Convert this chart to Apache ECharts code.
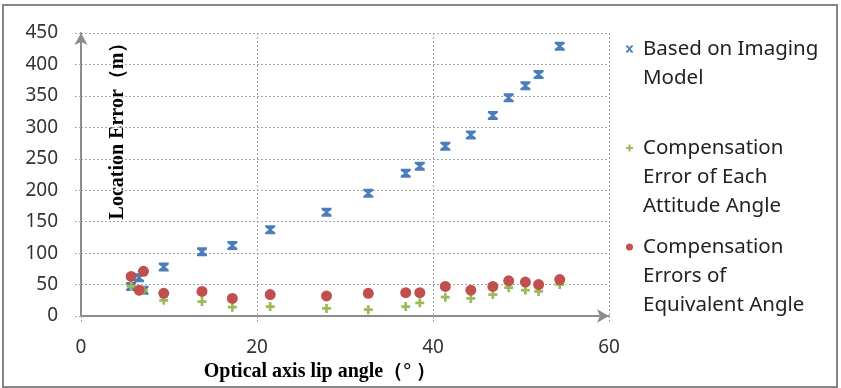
<!DOCTYPE html>
<html>
<head>
<meta charset="utf-8">
<script src="https://cdn.jsdelivr.net/npm/echarts@6/dist/echarts.min.js"></script>
<style>
  html, body { margin: 0; padding: 0; background: #fff; }
  #chart { width: 841px; height: 388px; }
</style>
</head>
<body>
<div id="chart"></div>
<script>
// optical axis tilt angle (deg)
const angles = [5.7, 6.6, 7.1, 9.4, 13.75, 17.2, 21.5, 27.9, 32.65, 36.9, 38.5, 41.4, 44.3, 46.8, 48.6, 50.5, 52.0, 54.4];
// location error (m)
const imagingModel = [47, 61, 41, 78, 102, 112, 137, 165, 195, 227, 238, 270, 288, 319, 347, 366, 384, 429];
const eachAttitude = [47, 40, 41, 25, 23, 14, 15, 12, 10, 15, 21, 30, 28, 34, 45, 41, 39, 50];
const equivalent = [63, 41, 71, 36, 39, 28, 34, 32, 36, 37, 37, 47, 41, 47, 56, 54, 50, 58];

const names = ['Based on Imaging\nModel', 'Compensation\nError of Each\nAttitude Angle', 'Compensation\nErrors of\nEquivalent Angle'];
const values = [imagingModel, eachAttitude, equivalent];

// excel-style star marker (x with bars), plus, circle
const starPath = 'path://M0,0H10V2.2L6.4,5L10,7.8V10H0V7.8L3.6,5L0,2.2Z';
const starSmall = 'path://M0,0H3L5,3.2L7,0H10V1.5L6.4,5L10,8.5V10H7L5,6.8L3,10H0V8.5L3.6,5L0,1.5Z';
const plusPath = 'path://M3.5,0H6.5V3.5H10V6.5H6.5V10H3.5V6.5H0V3.5H3.5Z';
const symbols = [starPath, plusPath, 'circle'];
const legendIcons = [starSmall, plusPath, 'circle'];
const sizes = [[10, 9], 9, 11];
const colors = ['#4a7ebb', '#9bbb59', '#c0504d'];

// legend rows: first-line centre of each entry
const legendRows = [49, 148, 247];
const lineH = 29;

const myChart = echarts.init(document.getElementById('chart'));
const option = {
  animation: false,
  grid: {left: 81, right: 232, top: 33, bottom: 72},
  xAxis: {
    type: 'value',
    min: 0, max: 60, interval: 20,
    axisLine: {show: true, symbol: ['none', 'arrow'], symbolSize: [10, 12], lineStyle: {color: '#8c8c8c', width: 2}},
    axisTick: {show: true, length: 8, lineStyle: {color: '#a8a8a8', type: [2, 2]}},
    axisLabel: {margin: 22, color: '#333', fontSize: 19, fontFamily: 'Noto Sans'},
    splitLine: {show: true, lineStyle: {color: '#a8a8a8', type: [2, 2]}}
  },
  yAxis: {
    type: 'value',
    min: 0, max: 450, interval: 50,
    axisLine: {show: true, symbol: ['none', 'arrow'], symbolSize: [10, 12], lineStyle: {color: '#8c8c8c', width: 2}},
    axisTick: {show: true, length: 8, lineStyle: {color: '#a8a8a8', type: [2, 2]}},
    axisLabel: {margin: 23, color: '#333', fontSize: 19, fontFamily: 'Noto Sans'},
    splitLine: {show: true, lineStyle: {color: '#a8a8a8', type: [2, 2]}}
  },
  legend: names.map((n, i) => ({
    data: [n],
    left: 626,
    top: legendRows[i] - 3.5,
    padding: 0,
    itemWidth: 7,
    itemHeight: 7,
    icon: legendIcons[i],
    formatter: () => '',
    textStyle: {fontSize: 7}
  })),
  series: names.map((n, i) => ({
    name: n,
    type: 'scatter',
    symbol: symbols[i],
    symbolSize: sizes[i],
    itemStyle: {color: colors[i], opacity: 1},
    data: angles.map((a, k) => [a, values[i][k]])
  })),
  graphic: [
    {type: 'rect', shape: {x: 3, y: 5, width: 834, height: 382}, style: {fill: 'none', stroke: '#868686', lineWidth: 2}, silent: true},
    {type: 'text', x: 118, y: 126, rotation: Math.PI / 2,
      style: {text: 'Location Error（m）', fontFamily: 'Liberation Serif', fontWeight: 'bold', fontSize: 20, fill: '#000', align: 'center', verticalAlign: 'middle'}},
    {type: 'text', x: 320, y: 372,
      style: {text: 'Optical axis lip angle（° ）', fontFamily: 'Liberation Serif', fontWeight: 'bold', fontSize: 20, fill: '#000', align: 'center', verticalAlign: 'middle'}}
  ].concat(names.map((n, i) => ({
    type: 'text', x: 643, y: legendRows[i] - lineH / 2,
    style: {text: n, fontFamily: 'Noto Sans', fontSize: 20.5, lineHeight: lineH, fill: '#222', align: 'left', verticalAlign: 'top'}
  })))
};

myChart.setOption(option);
</script>
</body>
</html>
